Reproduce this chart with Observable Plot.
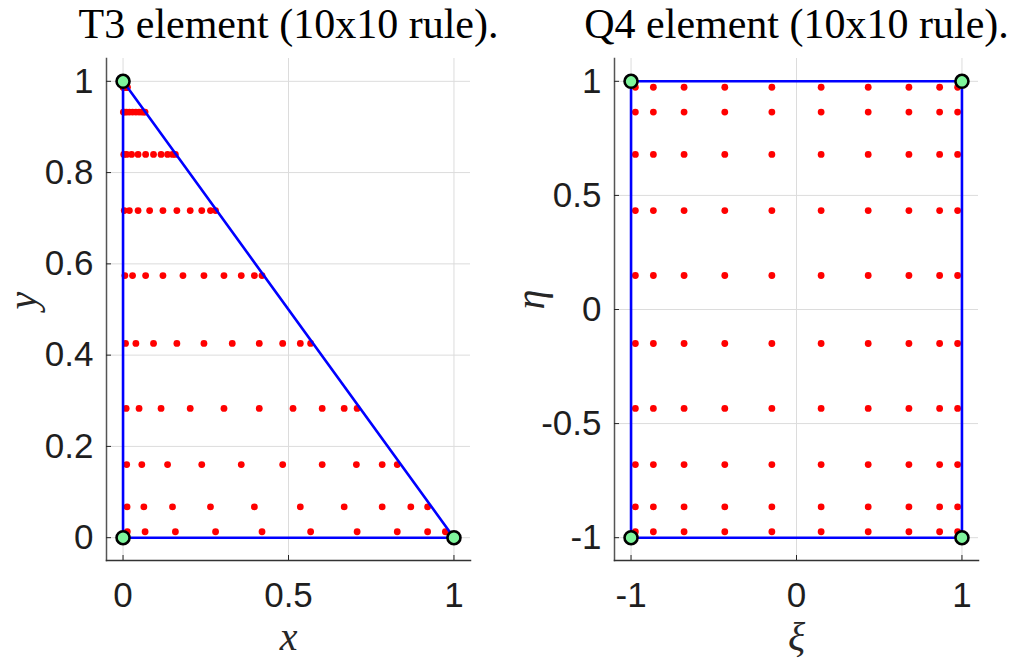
<!DOCTYPE html>
<html>
<head>
<meta charset="utf-8">
<script src="https://cdn.jsdelivr.net/npm/d3@7"></script>
<script src="https://cdn.jsdelivr.net/npm/@observablehq/plot@0.6"></script>
<style>
  html, body { margin: 0; padding: 0; background: #fff; }
  #wrap { position: relative; width: 1015px; height: 659px; overflow: hidden; }
  #left { position: absolute; left: 0; top: 0; }
  #right { position: absolute; left: 507px; top: 0; }
</style>
</head>
<body>
<div id="wrap"><div id="left"></div><div id="right"></div></div>
<script>
// ---- Data ----
// Q4: 10-point Gauss-Legendre abscissae
const gaussNodes = [-0.9739, -0.8651, -0.6794, -0.4334, -0.1489, 0.1489, 0.4334, 0.6794, 0.8651, 0.9739];
// T3: row heights and the x positions of the points in each row
const triRowY = [0.0130, 0.0675, 0.1603, 0.2833, 0.4256, 0.5744, 0.7167, 0.8397, 0.9325, 0.9870];
const triRowX = [
  [0.0129, 0.0666, 0.1582, 0.2796, 0.4200, 0.5669, 0.7074, 0.8287, 0.9204, 0.9741],
  [0.0122, 0.0629, 0.1495, 0.2642, 0.3969, 0.5357, 0.6683, 0.7831, 0.8696, 0.9204],
  [0.0110, 0.0567, 0.1346, 0.2379, 0.3573, 0.4824, 0.6018, 0.7051, 0.7831, 0.8287],
  [0.0094, 0.0484, 0.1149, 0.2030, 0.3050, 0.4117, 0.5137, 0.6018, 0.6683, 0.7074],
  [0.0075, 0.0388, 0.0921, 0.1627, 0.2445, 0.3300, 0.4117, 0.4824, 0.5357, 0.5669],
  [0.0056, 0.0287, 0.0682, 0.1206, 0.1811, 0.2445, 0.3050, 0.3573, 0.3969, 0.4200],
  [0.0037, 0.0191, 0.0454, 0.0803, 0.1206, 0.1627, 0.2030, 0.2379, 0.2642, 0.2796],
  [0.0021, 0.0108, 0.0257, 0.0454, 0.0682, 0.0921, 0.1149, 0.1346, 0.1495, 0.1582],
  [0.0009, 0.0046, 0.0108, 0.0191, 0.0287, 0.0388, 0.0484, 0.0567, 0.0629, 0.0666],
  [0.0002, 0.0009, 0.0021, 0.0037, 0.0056, 0.0075, 0.0094, 0.0110, 0.0122, 0.0129]
];
// Element outlines and nodes
const triOutlineX = [0, 1, 0, 0];
const triOutlineY = [0, 0, 1, 0];
const triNodeX = [0, 1, 0];
const triNodeY = [0, 0, 1];
const quadOutlineX = [-1, 1, 1, -1, -1];
const quadOutlineY = [-1, -1, 1, 1, -1];
const quadNodeX = [-1, 1, 1, -1];
const quadNodeY = [-1, -1, 1, 1];
// Ticks
const triXTicks = [0, 0.5, 1];
const triYTicks = [0, 0.2, 0.4, 0.6, 0.8, 1];
const quadXTicks = [-1, 0, 1];
const quadYTicks = [-1, -0.5, 0, 0.5, 1];
const titles = ["T3 element (10x10 rule).", "Q4 element (10x10 rule)."];

// ---- Tables built from the arrays ----
const triPts = [];
triRowY.forEach((y, j) => triRowX[j].forEach(x => triPts.push({x, y})));
const quadPts = [];
gaussNodes.forEach(e => gaussNodes.forEach(x => quadPts.push({x, y: e})));
const zip = (X, Y) => X.map((x, i) => ({x, y: Y[i]}));

const tickFont = "Liberation Sans, Arial, sans-serif";
const serif = "Liberation Serif, Times New Roman, serif";
const green = "#7ff59c";

function panel({pts, outline, nodes, xd, yd, xt, yt, title, xlab, ylab, ml, width, yfmt, xfmt}) {
  return Plot.plot({
    width, height: 659,
    marginLeft: ml, marginRight: 37, marginTop: 58, marginBottom: 99,
    style: {background: "transparent", overflow: "visible"},
    x: {domain: xd, ticks: xt},
    y: {domain: yd, ticks: yt},
    marks: [
      Plot.gridX(xt, {stroke: "#dcdcdc", strokeOpacity: 1}),
      Plot.gridY(yt, {stroke: "#dcdcdc", strokeOpacity: 1}),
      Plot.dot(pts, {x: "x", y: "y", r: 3.4, fill: "#ff0000", stroke: null}),
      Plot.line(outline, {x: "x", y: "y", stroke: "#0000ff", strokeWidth: 2.6}),
      Plot.dot(nodes, {x: "x", y: "y", r: 6.5, fill: green, stroke: "#000", strokeWidth: 2.6}),
      Plot.frame({anchor: "left", stroke: "#555", strokeWidth: 1.5}),
      Plot.frame({anchor: "bottom", stroke: "#333", strokeWidth: 1.5}),
      Plot.axisX(xt, {tickSize: -5, tickPadding: 27, fontSize: 35, fontFamily: tickFont, fill: "#1e1e1e", stroke: "#262626", label: null, tickFormat: xfmt}),
      Plot.axisY(yt, {tickSize: -5, tickPadding: 18, fontSize: 35, fontFamily: tickFont, fill: "#1e1e1e", stroke: "#262626", label: null, tickFormat: yfmt}),
      Plot.text([title], {frameAnchor: "top", dy: -21, lineAnchor: "bottom", fontSize: 42, fontFamily: serif, fill: "#000"}),
      Plot.text([xlab], {frameAnchor: "bottom", dy: 89, lineAnchor: "bottom", fontSize: 40, fontFamily: serif, fontStyle: "italic", fill: "#262626"}),
      Plot.text([ylab], {frameAnchor: "left", dx: -83, rotate: -90, lineAnchor: "middle", fontSize: 40, fontFamily: serif, fontStyle: "italic", fill: "#262626"})
    ]
  });
}

const fmt = d => String(d).replace("−", "-");
const left = panel({
  pts: triPts, outline: zip(triOutlineX, triOutlineY), nodes: zip(triNodeX, triNodeY),
  xd: [-0.05, 1.05], yd: [-0.05, 1.05], xt: triXTicks, yt: triYTicks,
  title: titles[0], xlab: "x", ylab: "y", ml: 106, width: 507, xfmt: fmt, yfmt: fmt
});
const right = panel({
  pts: quadPts, outline: zip(quadOutlineX, quadOutlineY), nodes: zip(quadNodeX, quadNodeY),
  xd: [-1.1, 1.1], yd: [-1.1, 1.1], xt: quadXTicks, yt: quadYTicks,
  title: titles[1], xlab: "ξ", ylab: "η", ml: 107, width: 508, xfmt: fmt, yfmt: fmt
});
document.getElementById("left").appendChild(left);
document.getElementById("right").appendChild(right);
</script>
</body>
</html>
